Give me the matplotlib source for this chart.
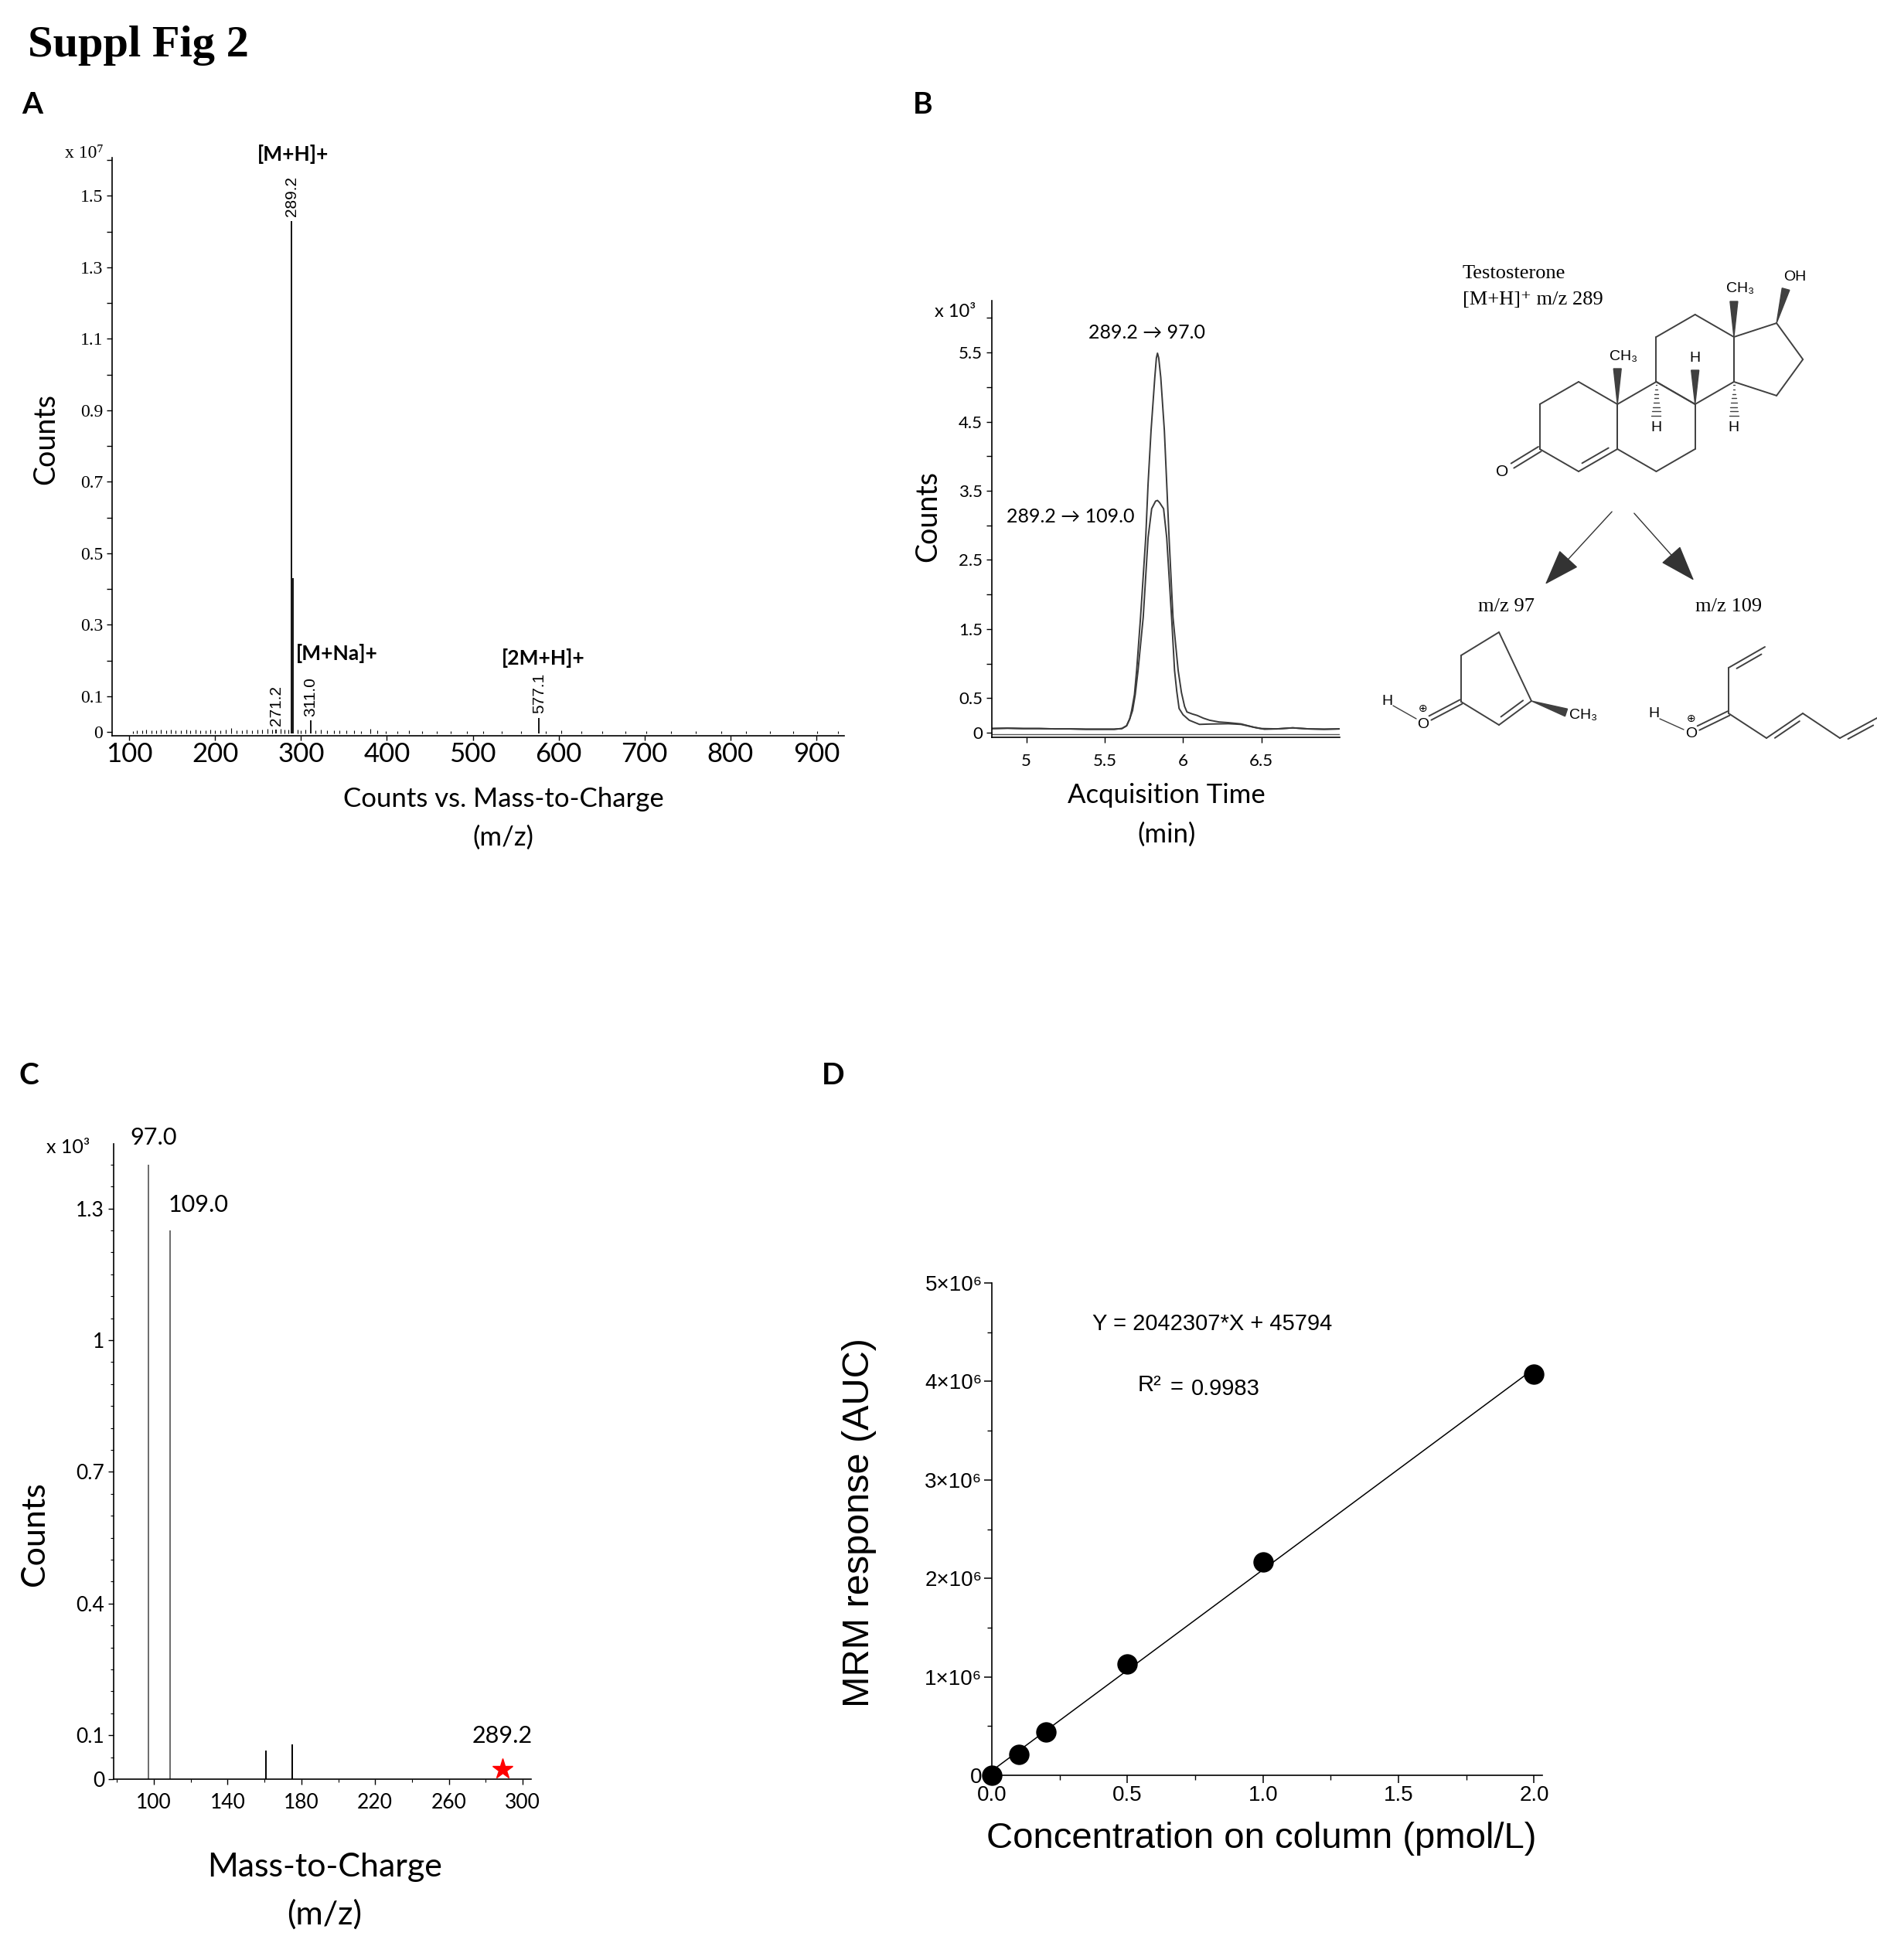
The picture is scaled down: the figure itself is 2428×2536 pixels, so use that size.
import numpy as np
import matplotlib.pyplot as plt
from matplotlib.ticker import MultipleLocator, FixedLocator, FuncFormatter
from matplotlib.patches import Polygon

W, H = 2428, 2536
LATO = ['Lato', 'DejaVu Sans']
SERIF = ['Liberation Serif', 'DejaVu Serif']
ARIAL = ['Liberation Sans', 'DejaVu Sans']
NARROW = ['Liberation Sans Narrow', 'Liberation Sans', 'DejaVu Sans']

# ---- A: full scan spectrum (counts x 10^7)
ms_mz = [271.2, 289.2, 290.2, 311.0, 577.1]
ms_counts = [0.006, 1.43, 0.43, 0.032, 0.040]
ms_labels = ['271.2', '289.2', '', '311.0', '577.1']
noise_mz = [104, 109, 115, 120, 126, 131, 137, 143, 148, 154,
            160, 166, 171, 177, 183, 189, 194, 200, 206, 212,
            219, 225, 231, 237, 243, 249, 255, 261, 266, 276,
            281, 285, 296, 300, 305, 317, 323, 330, 338, 345,
            353, 362, 370, 381, 389, 399, 412, 426, 441, 458,
            474, 493, 512, 534, 556, 585, 603, 626, 651, 678,
            702, 731, 760, 789, 818, 846, 873, 901, 925]
noise_counts = [0.003, 0.005, 0.004, 0.006, 0.004, 0.005, 0.007, 0.004, 0.006, 0.005,
                0.004, 0.006, 0.005, 0.007, 0.004, 0.005, 0.006, 0.004, 0.005, 0.006,
                0.012, 0.005, 0.004, 0.006, 0.005, 0.007, 0.006, 0.008, 0.006, 0.009,
                0.007, 0.006, 0.007, 0.005, 0.006, 0.005, 0.006, 0.004, 0.005, 0.004,
                0.005, 0.004, 0.003, 0.008, 0.004, 0.003, 0.003, 0.004, 0.003, 0.003,
                0.002, 0.003, 0.002, 0.003, 0.002, 0.003, 0.004, 0.002, 0.003, 0.002,
                0.002, 0.003, 0.002, 0.002, 0.003, 0.002, 0.002, 0.002, 0.002]

# ---- B: MRM chromatograms (counts x 10^3)
time_97 = [4.78, 4.88, 4.98, 5.08, 5.18, 5.28, 5.38, 5.48, 5.56, 5.61,
           5.64, 5.66, 5.672, 5.69, 5.704, 5.729, 5.762, 5.777, 5.796, 5.82,
           5.83, 5.837, 5.845, 5.858, 5.881, 5.896, 5.911, 5.936, 5.969, 5.99,
           6.01, 6.025, 6.06, 6.09, 6.13, 6.17, 6.23, 6.29, 6.37, 6.45,
           6.5, 6.6, 6.7, 6.8, 6.9, 7.0]
counts_97 = [0.06, 0.065, 0.06, 0.06, 0.055, 0.055, 0.05, 0.05, 0.05, 0.06,
             0.1, 0.2, 0.32, 0.55, 0.9, 1.67, 2.82, 3.6, 4.37, 5.14,
             5.42, 5.49, 5.42, 5.14, 4.37, 3.6, 2.82, 1.67, 0.9, 0.58,
             0.38, 0.3, 0.27, 0.25, 0.21, 0.18, 0.155, 0.145, 0.127, 0.08,
             0.06, 0.055, 0.07, 0.055, 0.05, 0.055]
time_109 = [4.78, 4.88, 4.98, 5.08, 5.18, 5.28, 5.38, 5.48, 5.56, 5.61,
            5.64, 5.66, 5.678, 5.695, 5.713, 5.746, 5.777, 5.80, 5.825, 5.837,
            5.85, 5.876, 5.896, 5.927, 5.946, 5.96, 5.975, 6.0, 6.04, 6.105,
            6.17, 6.29, 6.37, 6.47, 6.52, 6.6, 6.7, 6.8, 6.9, 7.0]
counts_109 = [0.06, 0.065, 0.06, 0.06, 0.055, 0.055, 0.05, 0.05, 0.05, 0.06,
              0.1, 0.2, 0.32, 0.55, 0.9, 1.67, 2.82, 3.24, 3.35, 3.36,
              3.33, 3.24, 2.82, 1.67, 0.9, 0.6, 0.35, 0.26, 0.18, 0.12,
              0.125, 0.13, 0.12, 0.07, 0.05, 0.055, 0.07, 0.055, 0.05, 0.055]

# ---- C: product ion spectrum (counts x 10^3)
frag_mz = [97.0, 109.0, 161.0, 175.0]
frag_counts = [1.40, 1.25, 0.066, 0.080]
frag_colors = ['#6b6b6b', '#6b6b6b', 'black', 'black']
precursor_mz = 289.2
precursor_counts = 0.023

# ---- D: calibration curve
conc = [0.0, 0.1, 0.2, 0.5, 1.0, 2.0]
auc = [0.0, 0.21e6, 0.44e6, 1.13e6, 2.17e6, 4.07e6]
slope, intercept = 2042307, 45794


fig = plt.figure(figsize=(W / 100, H / 100), dpi=100)


def box(l, t, r, b):
    return [l / W, 1 - b / H, (r - l) / W, (b - t) / H]


def strip(ax):
    ax.spines['top'].set_visible(False)
    ax.spines['right'].set_visible(False)
    ax.spines['left'].set_linewidth(1.2)
    ax.spines['bottom'].set_linewidth(1.2)


# ---------------- panel A
axA = fig.add_axes(box(145, 204, 1092, 952))
strip(axA)
axA.vlines(noise_mz, -0.004, noise_counts, color='black', lw=0.8)
axA.vlines(ms_mz, -0.004, ms_counts, color='black', lw=1.3)
for mz, c, lab in zip(ms_mz, ms_counts, ms_labels):
    if lab:
        axA.annotate(lab, (mz, c), xytext=(0, 4), textcoords='offset points',
                     rotation=90, ha='center', va='bottom', fontsize=15, family=ARIAL)
axA.set_xlim(80, 932.5)
axA.set_ylim(-0.0104, 1.607)
axA.yaxis.set_major_locator(FixedLocator([0, 0.1, 0.3, 0.5, 0.7, 0.9, 1.1, 1.3, 1.5]))
axA.yaxis.set_minor_locator(MultipleLocator(0.1))
axA.yaxis.set_major_formatter(FuncFormatter(lambda v, p: '0' if v == 0 else f'{v:.1f}'))
axA.xaxis.set_major_locator(MultipleLocator(100))
axA.tick_params(axis='y', which='both', length=5, width=1, labelsize=17, labelfontfamily=SERIF)
axA.tick_params(axis='x', length=4, width=1, labelsize=25, labelfontfamily=LATO, pad=2)

# ---------------- panel B
axB = fig.add_axes(box(1283, 389, 1733, 954))
strip(axB)
axB.plot(time_97, counts_97, color='#3a3a3a', lw=1.4)
axB.plot(time_109, counts_109, color='#3a3a3a', lw=1.4)
axB.axhline(-0.022, color='#555555', lw=1.0)
axB.set_xlim(4.78, 7.0)
axB.set_ylim(-0.067, 6.25)
axB.yaxis.set_major_locator(MultipleLocator(0.5))
b_labels = [0, 0.5, 1.5, 2.5, 3.5, 4.5, 5.5]
axB.yaxis.set_major_formatter(FuncFormatter(
    lambda v, p: ('0' if abs(v) < 1e-9 else f'{v:g}') if any(abs(v - l) < 1e-9 for l in b_labels) else ''))
axB.xaxis.set_major_locator(FixedLocator([5, 5.5, 6, 6.5]))
axB.xaxis.set_major_formatter(FuncFormatter(lambda v, p: f'{v:g}'))
axB.tick_params(axis='both', length=5, width=1, labelsize=16, labelfontfamily=LATO)
axB.tick_params(axis='x', pad=10)

# ---------------- panel C
axC = fig.add_axes(box(147, 1480, 687, 2302))
strip(axC)
axC.vlines(frag_mz, 0, frag_counts, colors=frag_colors, lw=1.4)
axC.plot(precursor_mz, precursor_counts, marker='*', color='red', ms=20, clip_on=False)
axC.set_xlim(78.2, 304.6)
axC.set_ylim(0, 1.447)
axC.yaxis.set_major_locator(FixedLocator([0, 0.1, 0.4, 0.7, 1.0, 1.3]))
axC.yaxis.set_minor_locator(MultipleLocator(0.05))
axC.yaxis.set_major_formatter(FuncFormatter(lambda v, p: f'{v:g}'))
axC.xaxis.set_major_locator(FixedLocator([100, 140, 180, 220, 260, 300]))
axC.xaxis.set_minor_locator(MultipleLocator(20))
axC.tick_params(axis='both', which='major', length=5, width=1, labelsize=19, labelfontfamily=LATO)
axC.tick_params(axis='both', which='minor', length=3, width=0.8)
axC.tick_params(axis='x', pad=8)

# ---------------- panel D
axD = fig.add_axes(box(1283, 1660, 1995, 2297))
strip(axD)
fit_x = np.array([conc[0], conc[-1]])
axD.plot(fit_x, slope * fit_x + intercept, color='black', lw=1.1)
axD.plot(conc, auc, 'o', color='black', ms=18, clip_on=False, zorder=5)
axD.set_xlim(0, 2.03)
axD.set_ylim(0, 5e6)
axD.yaxis.set_major_locator(MultipleLocator(1e6))
axD.yaxis.set_minor_locator(MultipleLocator(0.5e6))
axD.yaxis.set_major_formatter(FuncFormatter(lambda v, p: '0' if v == 0 else f'{int(round(v / 1e6))}×10⁶'))
axD.xaxis.set_major_locator(MultipleLocator(0.5))
axD.xaxis.set_minor_locator(MultipleLocator(0.25))
axD.xaxis.set_major_formatter(FuncFormatter(lambda v, p: f'{v:.1f}'))
axD.tick_params(axis='both', which='major', length=7, width=1.1, labelsize=20, labelfontfamily=NARROW, pad=2)
axD.tick_params(axis='both', which='minor', length=4, width=1.0)

# ---------------- overlay for free text and the structure drawing
ov = fig.add_axes([0, 0, 1, 1], zorder=10)
ov.set_xlim(0, W)
ov.set_ylim(H, 0)
ov.axis('off')


def txt(x, y, s, size, fam, **kw):
    kw.setdefault('ha', 'center')
    kw.setdefault('va', 'center')
    ov.text(x, y, s, fontsize=size, family=fam, **kw)


txt(36, 73, 'Suppl Fig 2', 42, SERIF, ha='left', va='baseline', weight='bold')
for lab, x, y in [('A', 28, 147), ('B', 1181, 147), ('C', 24, 1403), ('D', 1063, 1403)]:
    txt(x, y, lab, 28, LATO, ha='left', va='baseline', weight='bold')

# A texts
txt(84, 198, 'x 10⁷', 17, SERIF, ha='left')
txt(379, 200, '[M+H]+', 19, LATO, weight='bold')
txt(383, 846, '[M+Na]+', 19, LATO, weight='bold', ha='left')
txt(703, 851, '[2M+H]+', 19, LATO, weight='bold')
txt(59, 568, 'Counts', 27, LATO, rotation=90)
txt(651, 1034, 'Counts vs. Mass-to-Charge', 25, LATO)
txt(651, 1084, '(m/z)', 25, LATO)

# B texts
txt(1209, 403, 'x 10³', 17, LATO, ha='left')
txt(1200, 668, 'Counts', 27, LATO, rotation=90)
txt(1509, 1029, 'Acquisition Time', 25, LATO)
txt(1509, 1080, '(min)', 25, LATO)
txt(1484, 430, '289.2 → 97.0', 18, LATO)
txt(1385, 668, '289.2 → 109.0', 18, LATO)

# C texts
txt(60, 1485, 'x 10³', 18, LATO, ha='left')
txt(199, 1472, '97.0', 22, LATO)
txt(257, 1559, '109.0', 22, LATO)
txt(650, 2246, '289.2', 22, LATO)
txt(45, 1985, 'Counts', 31, LATO, rotation=90)
txt(420, 2416, 'Mass-to-Charge', 31, LATO)
txt(420, 2477, '(m/z)', 31, LATO)

# D texts
txt(1111, 1970, 'MRM response (AUC)', 35, ARIAL, rotation=90)
txt(1632, 2379, 'Concentration on column (pmol/L)', 34, ARIAL)
txt(1568, 1713, 'Y = 2042307*X + 45794', 21, NARROW)
txt(1472, 1792, 'R²', 21, NARROW, ha='left')
txt(1514, 1795, '=', 21, NARROW, ha='left')
txt(1541, 1797, '0.9983', 21, NARROW, ha='left')

# ---------------- testosterone and fragments
LC = '#404040'


def seg(p, q, lw=1.4):
    ov.plot([p[0], q[0]], [p[1], q[1]], color=LC, lw=lw, solid_capstyle='round')


def inner(p, q, toward, gap=7, trim=0.16):
    p, q, toward = np.array(p), np.array(q), np.array(toward)
    d = q - p
    n = np.array([-d[1], d[0]]) / np.hypot(*d)
    if np.dot(toward - (p + q) / 2, n) < 0:
        n = -n
    seg(p + d * trim + n * gap, q - d * trim + n * gap)


def pair(p, q, gap=3.5):
    p, q = np.array(p), np.array(q)
    d = q - p
    n = np.array([-d[1], d[0]]) / np.hypot(*d)
    seg(p + n * gap, q + n * gap)
    seg(p - n * gap, q - n * gap)


def wedge(p, q, w=5):
    p, q = np.array(p), np.array(q)
    d = q - p
    n = np.array([-d[1], d[0]]) / np.hypot(*d)
    ov.add_patch(Polygon([p, q + n * w, q - n * w], closed=True, color=LC))


def hashed(p, q, w=6, k=8):
    p, q = np.array(p), np.array(q)
    d = q - p
    n = np.array([-d[1], d[0]]) / np.hypot(*d)
    for f in np.linspace(0.1, 1, k):
        c = p + d * f
        seg(c - n * w * f, c + n * w * f, lw=1.0)


r = 58
hh = r * np.cos(np.radians(30))


def hexv(c):
    cx, cy = c
    return {'top': (cx, cy - r), 'ur': (cx + hh, cy - r / 2), 'lr': (cx + hh, cy + r / 2),
            'bot': (cx, cy + r), 'll': (cx - hh, cy + r / 2), 'ul': (cx - hh, cy - r / 2)}


def ring(v):
    order = ['top', 'ur', 'lr', 'bot', 'll', 'ul', 'top']
    for a, b in zip(order[:-1], order[1:]):
        seg(v[a], v[b])


cA = (2042, 552)
cB = (cA[0] + 2 * hh, cA[1])
cC = (cB[0] + hh, cB[1] - 1.5 * r)
A, B, C = hexv(cA), hexv(cB), hexv(cC)
for v in (A, B, C):
    ring(v)
inner(A['bot'], A['lr'], cA)

P1, P2 = np.array(C['ur']), np.array(C['lr'])
apo = r / (2 * np.tan(np.radians(36)))
Rp = r / (2 * np.sin(np.radians(36)))
cD = (P1 + P2) / 2 + np.array([apo, 0])
a0 = np.arctan2(P1[1] - cD[1], P1[0] - cD[0])
pent = [cD + Rp * np.array([np.cos(a0 + k * np.radians(72)), np.sin(a0 + k * np.radians(72))]) for k in range(5)]
for k in range(5):
    seg(pent[k], pent[(k + 1) % 5])
c17 = min(pent, key=lambda p: p[1])

# C3=O
c3 = np.array(A['ll'])
o_vec = np.array([-49, 30])
pair(c3, c3 + 0.72 * o_vec)
txt(*(c3 + o_vec), 'O', 15, NARROW)
# methyls, OH and ring-junction hydrogens
c10 = np.array(A['ur'])
wedge(c10, c10 + (0, -46))
txt(c10[0] - 10, c10[1] - 62, 'CH₃', 14, NARROW, ha='left')
c13 = np.array(C['ur'])
wedge(c13, c13 + (0, -46))
txt(c13[0] - 10, c13[1] - 62, 'CH₃', 14, NARROW, ha='left')
wedge(c17, c17 + (12, -44))
txt(c17[0] + 24, c17[1] - 60, 'OH', 14, NARROW)
c8 = np.array(B['ur'])
wedge(c8, c8 + (0, -44))
txt(c8[0], c8[1] - 60, 'H', 14, NARROW)
for c in (np.array(B['top']), np.array(C['lr'])):
    hashed(c, c + (0, 44))
    txt(c[0], c[1] + 60, 'H', 14, NARROW)

txt(1892, 354, 'Testosterone', 19, SERIF, ha='left')
txt(1892, 388, '[M+H]⁺ m/z 289', 19, SERIF, ha='left')

arrow = dict(arrowstyle='-|>,head_length=1.0,head_width=0.35', color='#333333', lw=1.0, mutation_scale=30)
ov.annotate('', xy=(1997, 758), xytext=(2087, 660), arrowprops=arrow)
ov.annotate('', xy=(2193, 753), xytext=(2112, 662), arrowprops=arrow)
txt(1949, 785, 'm/z 97', 19, SERIF)
txt(2236, 785, 'm/z 109', 19, SERIF)

# m/z 97 fragment
f1 = [(1939, 818), (1981, 907), (1939, 938), (1890, 908), (1890, 848)]
for k in range(5):
    seg(f1[k], f1[(k + 1) % 5])
inner(f1[1], f1[2], (1925, 880))
pair(f1[3], (1850, 929), gap=3)
txt(1841, 938, 'O', 14, NARROW)
txt(1841, 917, '⊕', 10, ['DejaVu Sans'])
txt(1794, 907, 'H', 14, NARROW)
seg((1802, 913), (1832, 930), lw=1.0)
wedge(np.array(f1[1]), np.array((2026, 922)), w=5)
txt(2030, 926, 'CH₃', 14, NARROW, ha='left')

# m/z 109 fragment
txt(2139, 924, 'H', 14, NARROW)
txt(2188, 949, 'O', 14, NARROW)
txt(2188, 930, '⊕', 10, ['DejaVu Sans'])
seg((2147, 930), (2178, 944), lw=1.0)
pair((2197, 942), (2236, 923), gap=3)
chain = [(2236, 923), (2285, 955), (2332, 923), (2380, 955), (2428, 929)]
for k in range(len(chain) - 1):
    seg(chain[k], chain[k + 1])
inner(chain[1], chain[2], (2310, 975), gap=6)
inner(chain[3], chain[4], (2410, 975), gap=6)
seg((2236, 923), (2236, 864))
seg((2236, 864), (2283, 837))
inner((2236, 864), (2283, 837), (2270, 870), gap=6)

fig.savefig('out.png', dpi=100, facecolor='white')
